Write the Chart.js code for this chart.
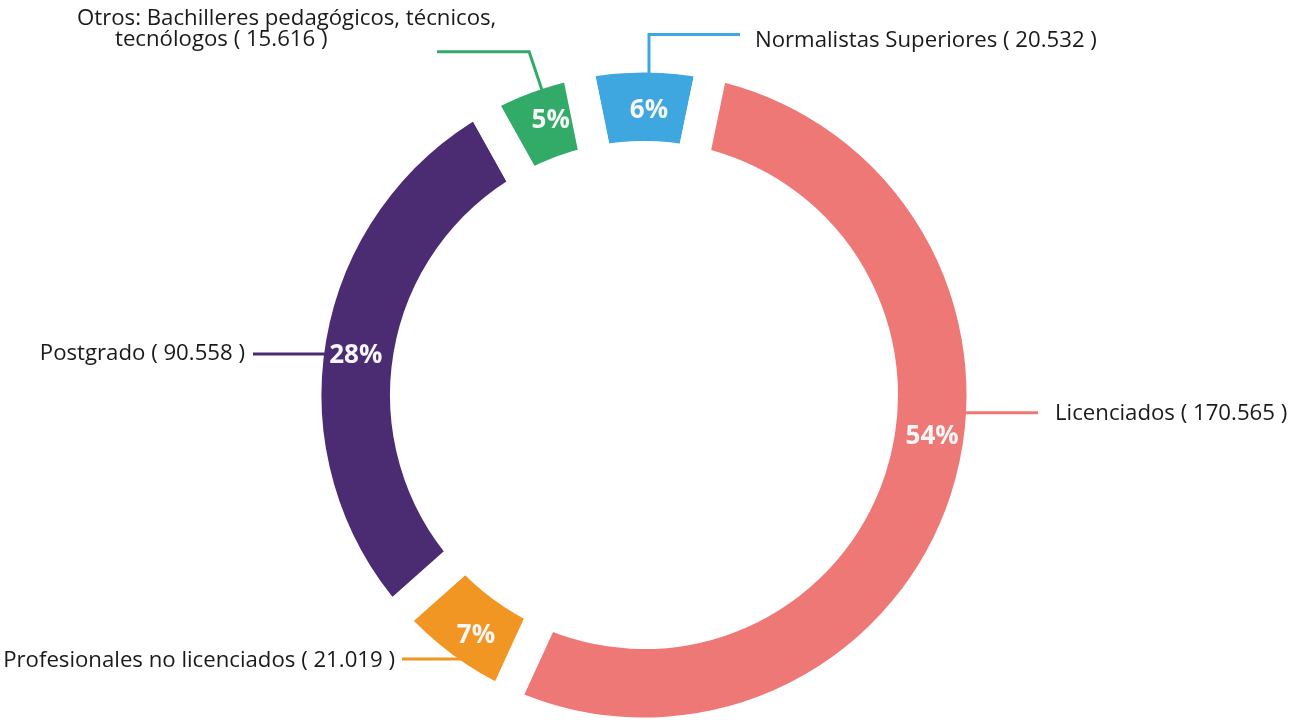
<!DOCTYPE html>
<html><head><meta charset="utf-8">
<script src="https://cdn.jsdelivr.net/npm/chart.js@4.4.1/dist/chart.umd.min.js"></script>
<style>html,body{margin:0;padding:0;background:#fff}#wrap{width:1290px;height:720px}</style>
</head><body><div id="wrap"><canvas id="c" width="1290" height="720"></canvas></div>
<script>
// ---- data ----
const categories = ["Normalistas Superiores", "Licenciados", "Profesionales no licenciados", "Postgrado", "Otros: Bachilleres pedagógicos, técnicos, tecnólogos"];
const values = [20532, 170565, 21019, 90558, 15616];
const colors = ["#3fa7df", "#ee7876", "#f29623", "#4b2c73", "#33ab68"];

// ---- layout ----
const GAP = 32, RING_OUT = 322.5, RING_IN = 254;
const FONT = '"Open Sans", "Noto Sans", sans-serif';
const pctAngles = [1, 98, 215, 278, -18.7];
const pctRadii = [285, 291, 293, 291, 291];
const leaders = [
  {kind: 'v', x: 649, yElbow: 34.5, xEnd: 740, tx: 755, ty: 47, align: 'left'},
  {kind: 'h', side: 1, y: 412.7, xEnd: 1038, tx: 1055, ty: 420, align: 'left'},
  {kind: 'h', side: -1, y: 659, xEnd: 402, tx: 395, ty: 667, align: 'right'},
  {kind: 'h', side: -1, y: 354, xEnd: 253, tx: 245, ty: 360, align: 'right'},
  {kind: 'r', angle: -18.5, rElbow: 362, xEnd: 437, tx: [77, 115], ty: [25, 46], align: 'left'}
];

function fmt(n) { return String(n).replace(/\B(?=(\d{3})+(?!\d))/g, '.'); }
const labelLines = [
  [categories[0] + ' ( ' + fmt(values[0]) + ' )'],
  [categories[1] + ' ( ' + fmt(values[1]) + ' )'],
  [categories[2] + ' ( ' + fmt(values[2]) + ' )'],
  [categories[3] + ' ( ' + fmt(values[3]) + ' )'],
  ['Otros: Bachilleres pedagógicos, técnicos,', 'tecnólogos ( ' + fmt(values[4]) + ' )']
];

const annot = {
  id: 'annot',
  afterDatasetsDraw(chart) {
    const ctx = chart.ctx;
    const meta = chart.getDatasetMeta(0);
    const cx = meta.data[0].x, cy = meta.data[0].y;
    const total = values.reduce((a, b) => a + b, 0);
    const pt = (deg, r) => { const a = deg * Math.PI / 180; return [cx + r * Math.sin(a), cy - r * Math.cos(a)]; };
    ctx.save();
    // leader lines
    ctx.lineWidth = 3;
    ctx.lineCap = 'butt';
    ctx.lineJoin = 'miter';
    leaders.forEach((L, i) => {
      ctx.strokeStyle = colors[i];
      ctx.beginPath();
      if (L.kind === 'v') {
        const y0 = cy - Math.sqrt(RING_OUT * RING_OUT - (L.x - cx) * (L.x - cx)) + 3;
        ctx.moveTo(L.x, y0); ctx.lineTo(L.x, L.yElbow); ctx.lineTo(L.xEnd, L.yElbow);
      } else if (L.kind === 'h') {
        const dy = L.y - cy;
        const x0 = cx + L.side * (Math.sqrt(RING_OUT * RING_OUT - dy * dy) - 3);
        ctx.moveTo(x0, L.y); ctx.lineTo(L.xEnd, L.y);
      } else {
        const p0 = pt(L.angle, RING_OUT - 3), p1 = pt(L.angle, L.rElbow);
        ctx.moveTo(p0[0], p0[1]); ctx.lineTo(p1[0], p1[1]); ctx.lineTo(L.xEnd, p1[1]);
      }
      ctx.stroke();
    });
    // category texts
    ctx.fillStyle = '#1a1a1a';
    ctx.font = '22.2px ' + FONT;
    ctx.textBaseline = 'alphabetic';
    leaders.forEach((L, i) => {
      ctx.textAlign = L.align;
      labelLines[i].forEach((s, j) => {
        const x = Array.isArray(L.tx) ? L.tx[j] : L.tx;
        const y = Array.isArray(L.ty) ? L.ty[j] : L.ty;
        ctx.fillText(s, x, y);
      });
    });
    // percentages
    ctx.fillStyle = '#f6f6f6';
    ctx.font = 'bold 26px ' + FONT;
    ctx.textAlign = 'center';
    ctx.textBaseline = 'middle';
    values.forEach((v, i) => {
      const p = pt(pctAngles[i], pctRadii[i]);
      ctx.fillText(Math.round(v / total * 100) + '%', p[0], p[1] + 1);
    });
    ctx.restore();
  }
};

new Chart(document.getElementById('c'), {
  type: 'doughnut',
  data: {
    labels: categories,
    datasets: [{
      data: values,
      backgroundColor: colors,
      borderColor: '#ffffff',
      borderWidth: GAP,
      borderAlign: 'center',
      hoverOffset: 0
    }]
  },
  options: {
    responsive: false,
    animation: false,
    devicePixelRatio: 1,
    rotation: -11.5,
    radius: RING_OUT + GAP / 2,
    cutout: ((RING_IN - GAP / 2) / (RING_OUT + GAP / 2) * 100) + '%',
    layout: {padding: {left: 0, right: 2, top: 70, bottom: 0}},
    plugins: {legend: {display: false}, tooltip: {enabled: false}, title: {display: false}}
  },
  plugins: [annot]
});
</script>
</body></html>
